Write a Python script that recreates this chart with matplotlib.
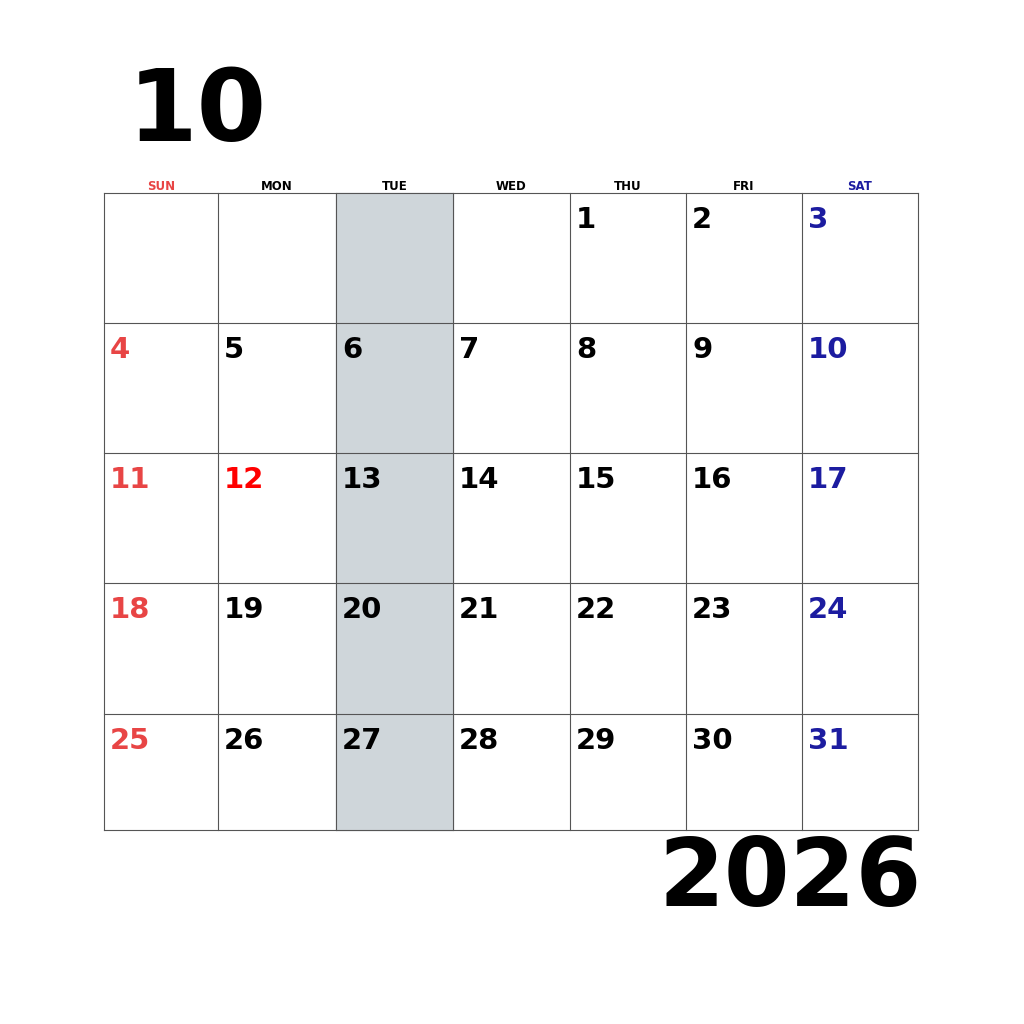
import matplotlib
matplotlib.use("Agg")
import matplotlib.pyplot as plt
from matplotlib.patches import Rectangle

# ---- Data ----
MONTH = "10"
YEAR = "2026"
WEEKDAYS = ["SUN", "MON", "TUE", "WED", "THU", "FRI", "SAT"]
FIRST_WEEKDAY = 4  # Oct 1 2026 is Thursday
DAYS_IN_MONTH = 31
HOLIDAYS = [12]
SHADED_COL = 2

# ---- Layout (pixels) ----
COL_X = [104, 218, 336, 453, 570, 686, 802, 918]
ROW_Y = [193, 323, 453, 583, 714, 830]
SUN_RED = "#e84545"
HOLIDAY_RED = "#ff0000"
SAT_BLUE = "#1c1ca0"
FONT = dict(family="DejaVu Sans", fontweight="heavy")

fig = plt.figure(figsize=(10.24, 10.24), dpi=100)
ax = fig.add_axes([0, 0, 1, 1])
ax.set_xlim(0, 1024)
ax.set_ylim(1024, 0)
ax.axis("off")

# shaded column
ax.add_patch(Rectangle((COL_X[SHADED_COL], ROW_Y[0]),
                       COL_X[SHADED_COL + 1] - COL_X[SHADED_COL],
                       ROW_Y[-1] - ROW_Y[0], color="#cfd6da", zorder=0))

# grid lines
for x in COL_X:
    ax.plot([x, x], [ROW_Y[0], ROW_Y[-1]], color="#555555", lw=0.8)
for y in ROW_Y:
    ax.plot([COL_X[0], COL_X[-1]], [y, y], color="#555555", lw=0.8)

# weekday headers
for i, name in enumerate(WEEKDAYS):
    c = SUN_RED if i == 0 else SAT_BLUE if i == 6 else "black"
    xc = (COL_X[i] + COL_X[i + 1]) / 2
    ax.text(xc, 187, name, ha="center", va="center", fontsize=8.5, color=c, **FONT)

# day numbers
for d in range(1, DAYS_IN_MONTH + 1):
    idx = FIRST_WEEKDAY + d - 1
    col, row = idx % 7, idx // 7
    if d in HOLIDAYS:
        c = HOLIDAY_RED
    elif col == 0:
        c = SUN_RED
    elif col == 6:
        c = SAT_BLUE
    else:
        c = "black"
    ax.text(COL_X[col] + 6, ROW_Y[row] + 27, str(d), ha="left", va="center",
            fontsize=21, color=c, **FONT)

ax.text(128, 113, MONTH, ha="left", va="center", fontsize=72, color="black", **FONT)
ax.text(922, 880, YEAR, ha="right", va="center", fontsize=68, color="black", **FONT)

fig.savefig("out.png", dpi=100, facecolor="white")
